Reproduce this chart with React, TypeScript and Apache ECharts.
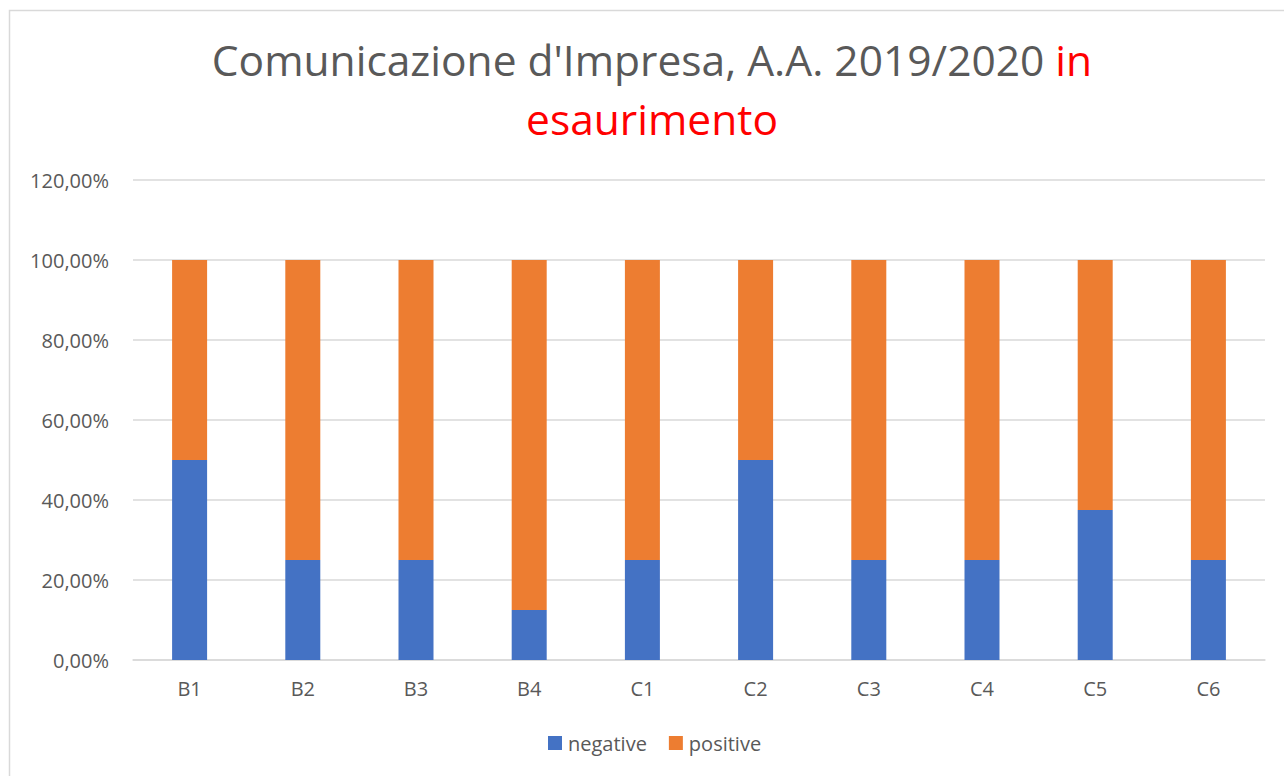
import React, { useEffect, useRef } from "react";
import * as echarts from "echarts";

const categories = ["B1", "B2", "B3", "B4", "C1", "C2", "C3", "C4", "C5", "C6"];
const negative = [50, 25, 25, 12.5, 25, 50, 25, 25, 37.5, 25];
const positive = [50, 75, 75, 87.5, 75, 50, 75, 75, 62.5, 75];
const seriesNames = ["negative", "positive"];

const FONT = "Open Sans";
const fmt = (v: number) => v.toFixed(2).replace(".", ",") + "%";

export default function App() {
  const ref = useRef<HTMLDivElement>(null);
  useEffect(() => {
    const chart = echarts.init(ref.current!, undefined, { renderer: "svg" });
    chart.setOption({
      animation: false,
      backgroundColor: "#ffffff",
      textStyle: { fontFamily: FONT },
      graphic: [
        {
          type: "rect",
          shape: { x: 9.5, y: 10.5, width: 1300, height: 800 },
          style: { fill: "none", stroke: "#d9d9d9", lineWidth: 1.5 },
          silent: true,
        },
      ],
      title: {
        left: 647,
        textAlign: "center",
        top: 25,
        text: "{a|Comunicazione d'Impresa, A.A. 2019/2020 }{b|in}\n{b|esaurimento}",
        textStyle: {
          fontWeight: "normal",
          rich: {
            a: { fontFamily: FONT, fontSize: 42.5, fontWeight: "normal", color: "#595959", lineHeight: 59 },
            b: { fontFamily: FONT, fontSize: 42.5, fontWeight: "normal", color: "#ff0000", lineHeight: 59 },
          },
        },
      },
      legend: {
        bottom: 18,
        left: 543,
        itemWidth: 14,
        itemHeight: 14,
        itemGap: 22,
        icon: "rect",
        data: seriesNames,
        textStyle: { fontFamily: FONT, fontSize: 20, color: "#595959", padding: [0, 0, 0, 1] },
      },
      grid: { left: 133, right: 19, top: 180, bottom: 116 },
      xAxis: {
        type: "category",
        data: categories,
        axisLine: { lineStyle: { color: "#d9d9d9", width: 1.5 } },
        axisTick: { show: false },
        axisLabel: { color: "#595959", fontSize: 20, fontFamily: FONT, margin: 18 },
      },
      yAxis: {
        type: "value",
        min: 0,
        max: 120,
        interval: 20,
        axisLine: { show: false },
        axisTick: { show: false },
        splitLine: { lineStyle: { color: "#d9d9d9", width: 1.5 } },
        axisLabel: { color: "#595959", fontSize: 20, fontFamily: FONT, margin: 24, formatter: fmt },
      },
      series: [
        {
          name: seriesNames[0],
          type: "bar",
          stack: "total",
          barWidth: 35,
          data: negative,
          itemStyle: { color: "#4472c4" },
        },
        {
          name: seriesNames[1],
          type: "bar",
          stack: "total",
          barWidth: 35,
          data: positive,
          itemStyle: { color: "#ed7d31" },
        },
      ],
    });
    return () => chart.dispose();
  }, []);
  return (
    <div
      ref={ref}
      style={{ position: "absolute", left: 0, top: 0, width: 1284, height: 776 }}
    />
  );
}
